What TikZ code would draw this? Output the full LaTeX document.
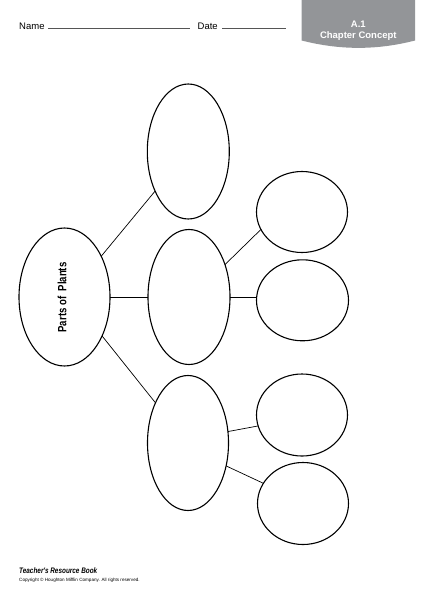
\documentclass[tikz,border=0pt]{standalone}
\usepackage{fontspec}
\setmainfont{Liberation Sans}
\newfontfamily\condfont[FakeStretch=0.8]{Liberation Sans}
\usetikzlibrary{shapes.geometric}
\definecolor{tabgray}{HTML}{939598}
\definecolor{rulegray}{HTML}{555555}
\begin{document}
\begin{tikzpicture}[x=1pt,y=-1pt,
  bubble/.style={draw, ellipse, line width=1.1pt, inner sep=0pt, outer sep=0pt},
  link/.style={line width=0.7pt},
  headtext/.style={anchor=base west, inner sep=0pt, font=\fontsize{9.5}{11}\selectfont},
  fillline/.style={line width=0.5pt, draw=rulegray}]
\useasboundingbox (0,0) rectangle (431,600);
% header
\node[headtext] (name) at (19,29) {Name};
\node[headtext] (date) at (197.5,29) {Date};
\coordinate (nameA) at (48,28.3);
\coordinate (nameB) at (190,28.3);
\coordinate (dateA) at (222,28.3);
\coordinate (dateB) at (286,28.3);
\draw[fillline] (nameA) -- (nameB);
\draw[fillline] (dateA) -- (dateB);
\fill[tabgray] (301.7,0) -- (301.7,40.5) .. controls (340,50.3) and (377,50.3) .. (415,40.5) -- (415,0) -- cycle;
\node[align=center, text=white, inner sep=0pt, font=\bfseries\fontsize{9.5}{11}\selectfont] (tabtext) at (358.3,30.5) {A.1\\Chapter Concept};
% ellipses
\node[bubble, minimum width=91pt, minimum height=138pt] (root) at (64.5,297) {};
\node[bubble, minimum width=82pt, minimum height=135pt] (top) at (188.3,151.5) {};
\node[bubble, minimum width=82pt, minimum height=135pt] (mid) at (189,297) {};
\node[bubble, minimum width=81pt, minimum height=135pt] (bot) at (188,443) {};
\node[bubble, minimum width=91pt, minimum height=81pt] (r1) at (302,212) {};
\node[bubble, minimum width=92pt, minimum height=81pt] (r2) at (302.5,300.3) {};
\node[bubble, minimum width=91pt, minimum height=82pt] (r3) at (302,415) {};
\node[bubble, minimum width=91pt, minimum height=82pt] (r4) at (303,503.5) {};
\node[rotate=90, inner sep=0pt, font=\condfont\bfseries\fontsize{12}{12}\selectfont] (rootlabel) at (62,297.5) {Parts of\ \ Plants};
% connectors
\draw[link] (root.48.5) -- (top.230.4);
\draw[link] (root.east) -- (mid.west);
\draw[link] (root.-46.8) -- (bot.129.9);
\draw[link] (mid.42.2) -- (r1.203.7);
\draw[link] (mid.east) -- (mid.east -| r2.west);
\draw[link] (bot.16.6) -- (r3.194);
\draw[link] (bot.-31.5) -- (r4.153.8);
% footer
\node[anchor=base west, inner sep=0pt, font=\condfont\bfseries\itshape\fontsize{8}{9}\selectfont] (book) at (19,573) {Teacher's Resource Book};
\node[anchor=base west, inner sep=0pt, font=\fontsize{4.6}{5.5}\selectfont] (copy) at (19,581.5) {Copyright \textcopyright\ Houghton Mifflin Company. All rights reserved.};
\end{tikzpicture}
\end{document}
